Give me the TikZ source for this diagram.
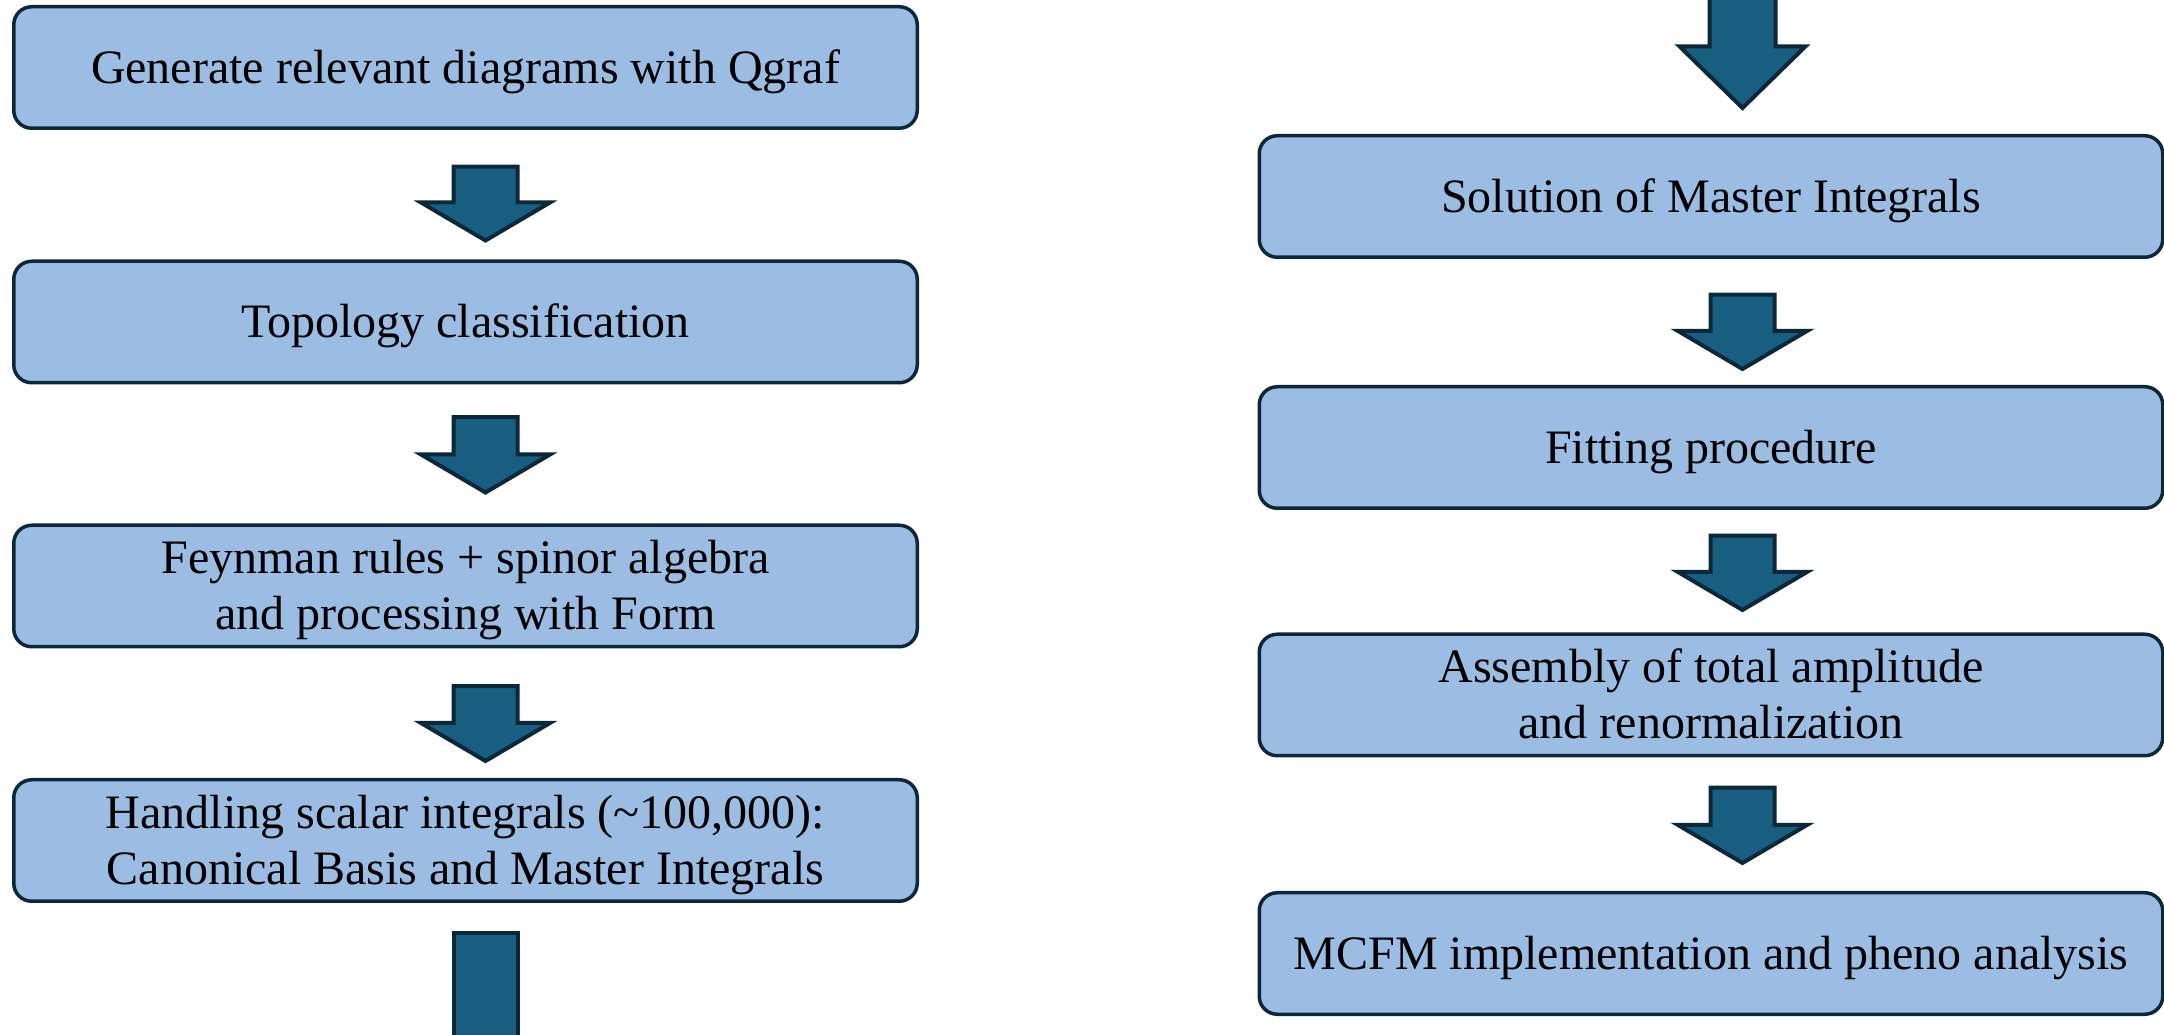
\documentclass[tikz,border=0pt]{standalone}
\usepackage{fontspec}
\setmainfont{Liberation Serif}
\usetikzlibrary{calc}

\definecolor{boxfill}{RGB}{155,189,227}
\definecolor{arrowfill}{RGB}{23,94,128}
\definecolor{edgecol}{RGB}{12,40,56}

% struts that centre the text on its capitals
\newcommand{\topstrut}{\rule{0pt}{42.5pt}}
\newcommand{\botstrut}{\rule[-10.5pt]{0pt}{10.5pt}}

% block arrow hanging below node #1 and pointing at node #2
% #3 x offset, #4 gap under #1, #5 gap above #2, #6 head length, #7 head half width
\newcommand{\flowarrow}[7]{%
  \draw[blockarrow] let \p1=(#1.south), \p2=(#2.north) in
    (\x1+#3pt-32pt, \y1-#4pt) -- (\x1+#3pt+32pt, \y1-#4pt)
    -- (\x1+#3pt+32pt, \y2+#5pt+#6pt) -- (\x1+#3pt+#7pt, \y2+#5pt+#6pt)
    -- (\x1+#3pt, \y2+#5pt)
    -- (\x1+#3pt-#7pt, \y2+#5pt+#6pt) -- (\x1+#3pt-32pt, \y2+#5pt+#6pt)
    -- cycle;}

\tikzset{
  stage/.style={draw=edgecol, fill=boxfill, line width=3.5pt,
    rounded corners=18pt, minimum width=903.5pt, minimum height=121.5pt,
    inner sep=0pt, align=center, font=\fontsize{48}{56}\selectfont},
  blockarrow/.style={draw=edgecol, fill=arrowfill, line width=4pt,
    line join=miter},
}

\begin{document}
\begin{tikzpicture}[x=1pt, y=1pt]
\useasboundingbox (0,0) rectangle (2164,1034);
\clip (0,0) rectangle (2164,1034);

% left column
\node[stage] (qgraf) at (465.5,966.5)
  {\topstrut Generate relevant diagrams with Qgraf\botstrut};
\node[stage] (topo) at (465.5,712)
  {\topstrut Topology classification\botstrut};
\node[stage] (feyn) at (465.5,448)
  {\topstrut Feynman rules + spinor algebra\\ and processing with Form\botstrut};
\node[stage] (ibp) at (465.5,193.5)
  {\topstrut Handling scalar integrals (\textasciitilde100,000):\\ Canonical Basis and Master Integrals\botstrut};

% right column
\node[stage] (mis) at (1711,837.5)
  {\topstrut Solution of Master Integrals\botstrut};
\node[stage] (fit) at (1711,586.5)
  {\topstrut Fitting procedure\botstrut};
\node[stage] (amp) at (1711,339)
  {\topstrut Assembly of total amplitude\\ and renormalization\botstrut};
\node[stage] (mcfm) at (1711,80.5)
  {\topstrut MCFM implementation and pheno analysis\botstrut};

% arrows between stages
\flowarrow{qgraf}{topo}{20}{36.75}{19}{38}{64.5}
\flowarrow{topo}{feyn}{20}{32.75}{31}{38}{64.5}
\flowarrow{feyn}{ibp}{20}{37.75}{17}{38}{64.5}
\flowarrow{mis}{fit}{31.5}{35.75}{16}{38}{64.5}
\flowarrow{fit}{amp}{31.5}{25.75}{22.5}{38}{64.5}
\flowarrow{amp}{mcfm}{31.5}{30.25}{28}{38}{64.5}

% flow leaving the left column at the bottom
\coordinate (leftexit) at (485.5,-10);
\draw[blockarrow] let \p1=(ibp.south), \p2=(leftexit) in
  (\x1+20pt-32pt, \y1-29.75pt) rectangle (\x1+20pt+32pt, \y2);

% flow entering the right column at the top
\coordinate (rightentry) at (1742.5,1044);
\draw[blockarrow] let \p1=(rightentry), \p2=(mis.north) in
  (\x1-33pt, \y1) -- (\x1+33pt, \y1)
  -- (\x1+33pt, \y2+26pt+61.6pt) -- (\x1+63pt, \y2+26pt+61.6pt)
  -- (\x1, \y2+26pt)
  -- (\x1-63pt, \y2+26pt+61.6pt) -- (\x1-33pt, \y2+26pt+61.6pt)
  -- cycle;
\end{tikzpicture}
\end{document}
